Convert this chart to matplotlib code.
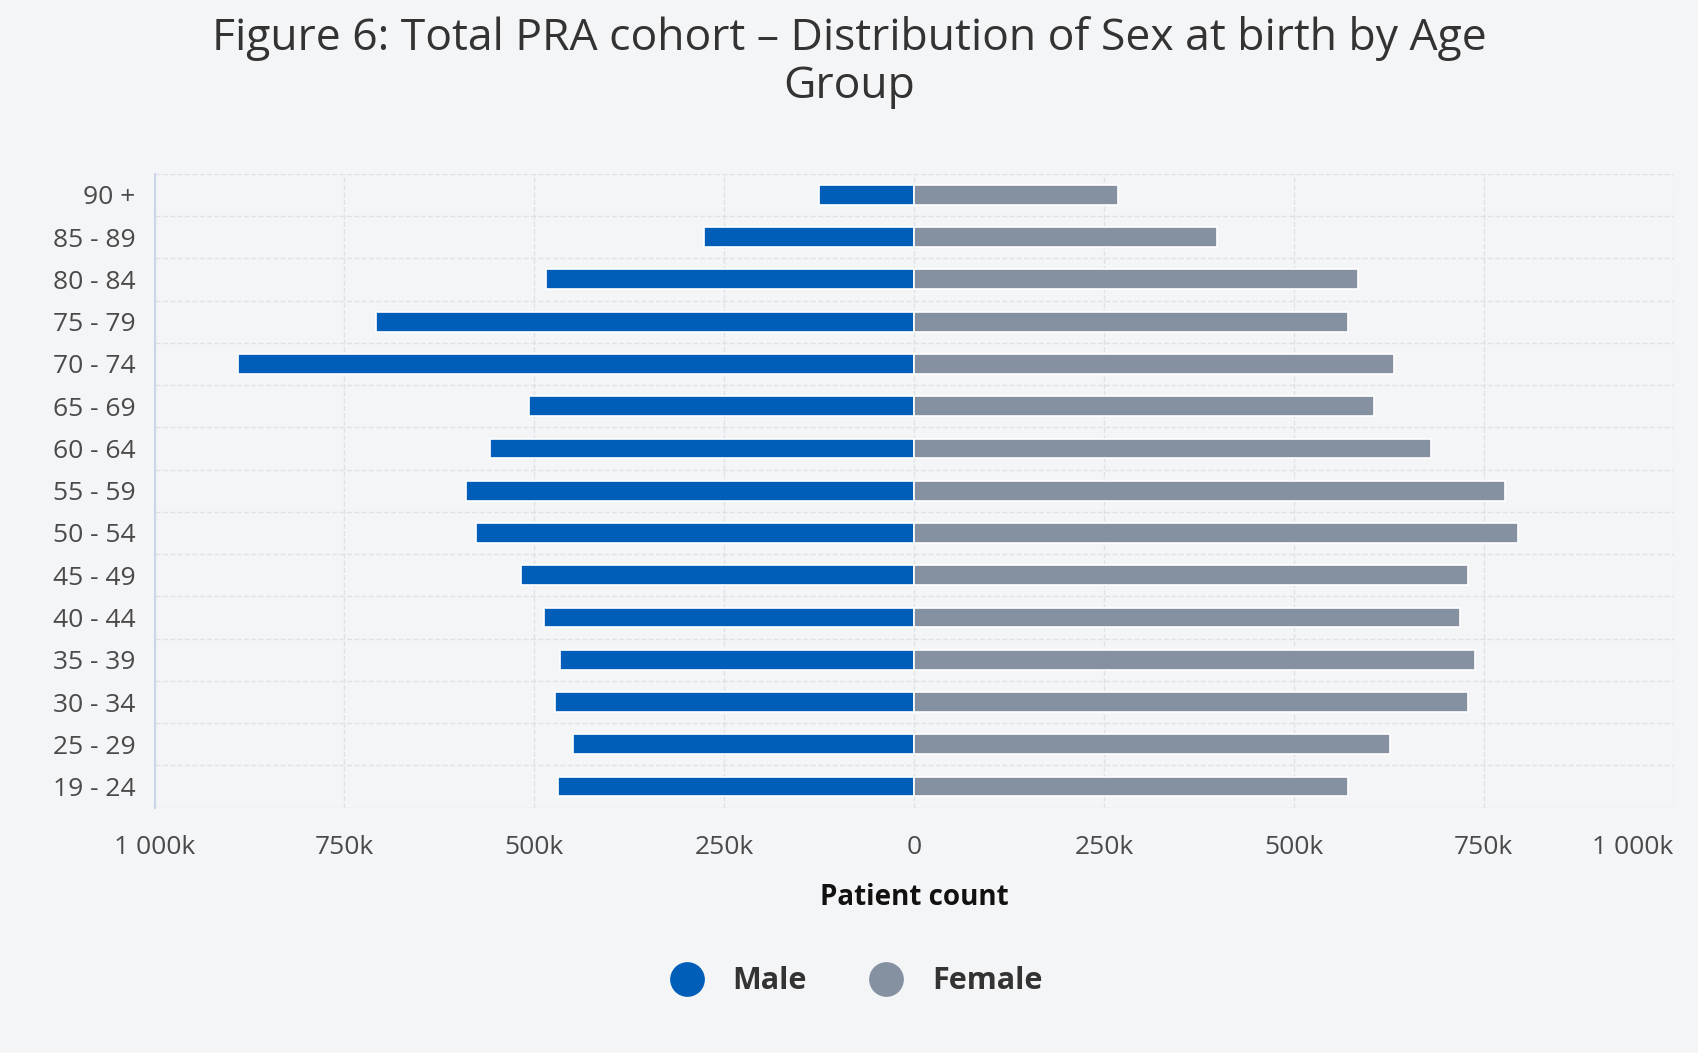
import numpy as np
import matplotlib.pyplot as plt
from matplotlib.lines import Line2D

plt.rcParams['font.family'] = ['Open Sans', 'DejaVu Sans']

age_groups = ['19 - 24', '25 - 29', '30 - 34', '35 - 39', '40 - 44', '45 - 49', '50 - 54',
              '55 - 59', '60 - 64', '65 - 69', '70 - 74', '75 - 79', '80 - 84', '85 - 89', '90 +']
male = [469, 449, 473, 466, 487, 517, 577, 590, 558, 507, 890, 708, 484, 276, 125]
female = [571, 627, 729, 739, 719, 729, 795, 778, 681, 605, 632, 571, 584, 399, 268]
ticks = [-1000, -750, -500, -250, 0, 250, 500, 750, 1000]
tick_labels = ['1 000k', '750k', '500k', '250k', '0', '250k', '500k', '750k', '1 000k']

bg = '#f4f5f7'
male_c = '#005eb8'
female_c = '#8591a0'

fig = plt.figure(figsize=(16.99, 10.53), dpi=100, facecolor=bg)
ax = fig.add_axes([0.091, 0.233, 0.894, 0.602])
ax.set_facecolor(bg)

y = np.arange(len(age_groups))
ax.barh(y, [-m for m in male], height=0.47, color=male_c, edgecolor='white', linewidth=1.2, zorder=3)
ax.barh(y, female, height=0.47, color=female_c, edgecolor='white', linewidth=1.2, zorder=3)

ax.set_xlim(-1000, 1000)
ax.set_ylim(-0.5, len(age_groups) - 0.5)
ax.set_xticks(ticks)
ax.set_xticklabels(tick_labels, fontsize=19, color='#4a4a4a')
ax.get_xticklabels()[-1].set_ha('right')
ax.set_yticks(y)
ax.set_yticklabels(age_groups, fontsize=19, color='#4a4a4a')
ax.set_yticks(np.arange(len(age_groups) + 1) - 0.5, minor=True)
ax.tick_params(which='both', length=0, pad=14)
ax.tick_params(axis='x', pad=20)
ax.grid(True, which='minor', axis='y', color='#dfe1e6', linestyle='--', linewidth=1)
ax.grid(True, which='major', axis='x', color='#dfe1e6', linestyle='--', linewidth=1)
for s in ['top', 'right', 'bottom']:
    ax.spines[s].set_visible(False)
ax.spines['left'].set_color('#ccd6eb')
ax.spines['left'].set_linewidth(1.5)

ax.set_xlabel('Patient count', fontsize=20, fontweight='bold', color='#111111', labelpad=16)

fig.suptitle('Figure 6: Total PRA cohort \u2013 Distribution of Sex at birth by Age\nGroup',
             fontsize=32, color='#333333', y=0.985, linespacing=1.1)

handles = [Line2D([], [], marker='o', linestyle='', markersize=24, color=male_c),
           Line2D([], [], marker='o', linestyle='', markersize=24, color=female_c)]
leg = fig.legend(handles, ['Male', 'Female'], loc='center', bbox_to_anchor=(0.5, 0.068),
                 ncol=2, frameon=False, prop={'size': 22, 'weight': 'bold'},
                 columnspacing=1.6, handletextpad=0.5)
for t in leg.get_texts():
    t.set_color('#333333')

fig.savefig('out.png', dpi=100, facecolor=bg)
